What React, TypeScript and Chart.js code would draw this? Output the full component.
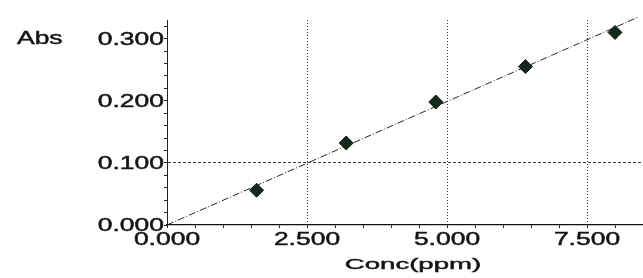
import React, { useEffect, useRef } from 'react';
import { Chart, registerables } from 'chart.js';

Chart.register(...registerables);

// ---- data ----
const concPpm = [1.6, 3.2, 4.8, 6.4, 8.0];
const absValues = [0.056, 0.132, 0.198, 0.255, 0.31];
const fitConc = [0, 8.4];
const fitAbs = [0, 0.334];
const xTickValues = [0, 2.5, 5, 7.5];
const xTickLabels = ['0.000', '2.500', '5.000', '7.500'];
const yTickValues = [0, 0.1, 0.2, 0.3];
const yTickLabels = ['0.000', '0.100', '0.200', '0.300'];
const xGridValues = [2.5, 5, 7.5];
const yGridValues = [0.1];
const xTitle = 'Conc(ppm)';
const yTitle = 'Abs';

const near = (a: number, b: number) => Math.abs(a - b) < 1e-6;

const TICK_FONT = '18px "Liberation Sans", Arial, sans-serif';
const TITLE_FONT = '15.5px "Liberation Sans", Arial, sans-serif';

function drawStretched(
  ctx: CanvasRenderingContext2D,
  text: string,
  x: number,
  y: number,
  align: CanvasTextAlign,
  font: string,
  sx: number
) {
  ctx.save();
  ctx.translate(x, y);
  ctx.scale(sx, 1);
  ctx.font = font;
  ctx.textAlign = align;
  ctx.textBaseline = 'middle';
  ctx.lineWidth = 0.45;
  ctx.strokeStyle = '#141414';
  ctx.fillText(text, 0, 0);
  ctx.strokeText(text, 0, 0);
  ctx.restore();
}

const textPlugin = {
  id: 'stretchedText',
  afterDraw(chart: any) {
    const ctx = chart.ctx as CanvasRenderingContext2D;
    const xs = chart.scales.x;
    const ys = chart.scales.y;
    const area = chart.chartArea;
    ctx.save();
    ctx.fillStyle = '#141414';
    yTickValues.forEach((v, i) =>
      drawStretched(ctx, yTickLabels[i], area.left - 3, ys.getPixelForValue(v) + 1, 'right', TICK_FONT, 1.47)
    );
    xTickValues.forEach((v, i) =>
      drawStretched(ctx, xTickLabels[i], xs.getPixelForValue(v), area.bottom + 15, 'center', TICK_FONT, 1.47)
    );
    drawStretched(ctx, xTitle, (area.left + area.right) / 2 + 8, area.bottom + 40, 'center', TITLE_FONT, 1.78);
    drawStretched(ctx, yTitle, 17, ys.getPixelForValue(0.3), 'left', TICK_FONT, 1.47);
    ctx.restore();
  },
};

export default function App() {
  const ref = useRef<HTMLCanvasElement | null>(null);

  useEffect(() => {
    if (!ref.current) return;
    const chart = new Chart(ref.current, {
      type: 'scatter',
      data: {
        datasets: [
          {
            type: 'line',
            data: fitConc.map((x, i) => ({ x, y: fitAbs[i] })),
            borderColor: '#262626',
            borderWidth: 1,
            borderDash: [7, 2, 1, 2],
            pointRadius: 0,
            fill: false,
            clip: false,
            order: 2,
          } as any,
          {
            data: concPpm.map((x, i) => ({ x, y: absValues[i] })),
            pointStyle: 'rectRot',
            pointRadius: 7,
            backgroundColor: '#15291b',
            borderColor: '#0d1a11',
            borderWidth: 1,
            clip: false,
            order: 1,
          } as any,
        ],
      },
      options: {
        animation: false,
        responsive: true,
        maintainAspectRatio: false,
        layout: { autoPadding: false, padding: { top: 20, right: 0, left: 0, bottom: 0 } },
        plugins: { legend: { display: false }, tooltip: { enabled: false } },
        scales: {
          x: {
            type: 'linear',
            min: 0,
            max: 8.5,
            afterFit: (s: any) => {
              s.height = 53;
            },
            ticks: { display: false, stepSize: 0.5, includeBounds: false },
            grid: {
              color: (c: any) =>
                xGridValues.some((v) => near(v, c.tick.value)) ? '#3a3a3a' : 'rgba(0,0,0,0)',
              lineWidth: 1,
              drawTicks: true,
              tickLength: 3,
              tickColor: '#222',
              tickWidth: 1,
            },
            border: { display: true, color: '#111', width: 1.3, dash: [1, 2] },
          },
          y: {
            type: 'linear',
            min: 0,
            max: 0.33,
            afterFit: (s: any) => {
              s.width = 167;
            },
            ticks: { display: false, stepSize: 0.02, includeBounds: false },
            grid: {
              color: (c: any) =>
                yGridValues.some((v) => near(v, c.tick.value)) ? '#3a3a3a' : 'rgba(0,0,0,0)',
              lineWidth: 1,
              drawTicks: true,
              tickLength: 3,
              tickColor: '#222',
              tickWidth: 1,
            },
            border: { display: true, color: '#222', width: 1, dash: [3, 2] },
          },
        },
      } as any,
      plugins: [textPlugin],
    });
    return () => chart.destroy();
  }, []);

  return (
    <div style={{ position: 'absolute', left: 0, top: 0, width: 643, height: 278, background: '#fff' }}>
      <canvas ref={ref} />
    </div>
  );
}
